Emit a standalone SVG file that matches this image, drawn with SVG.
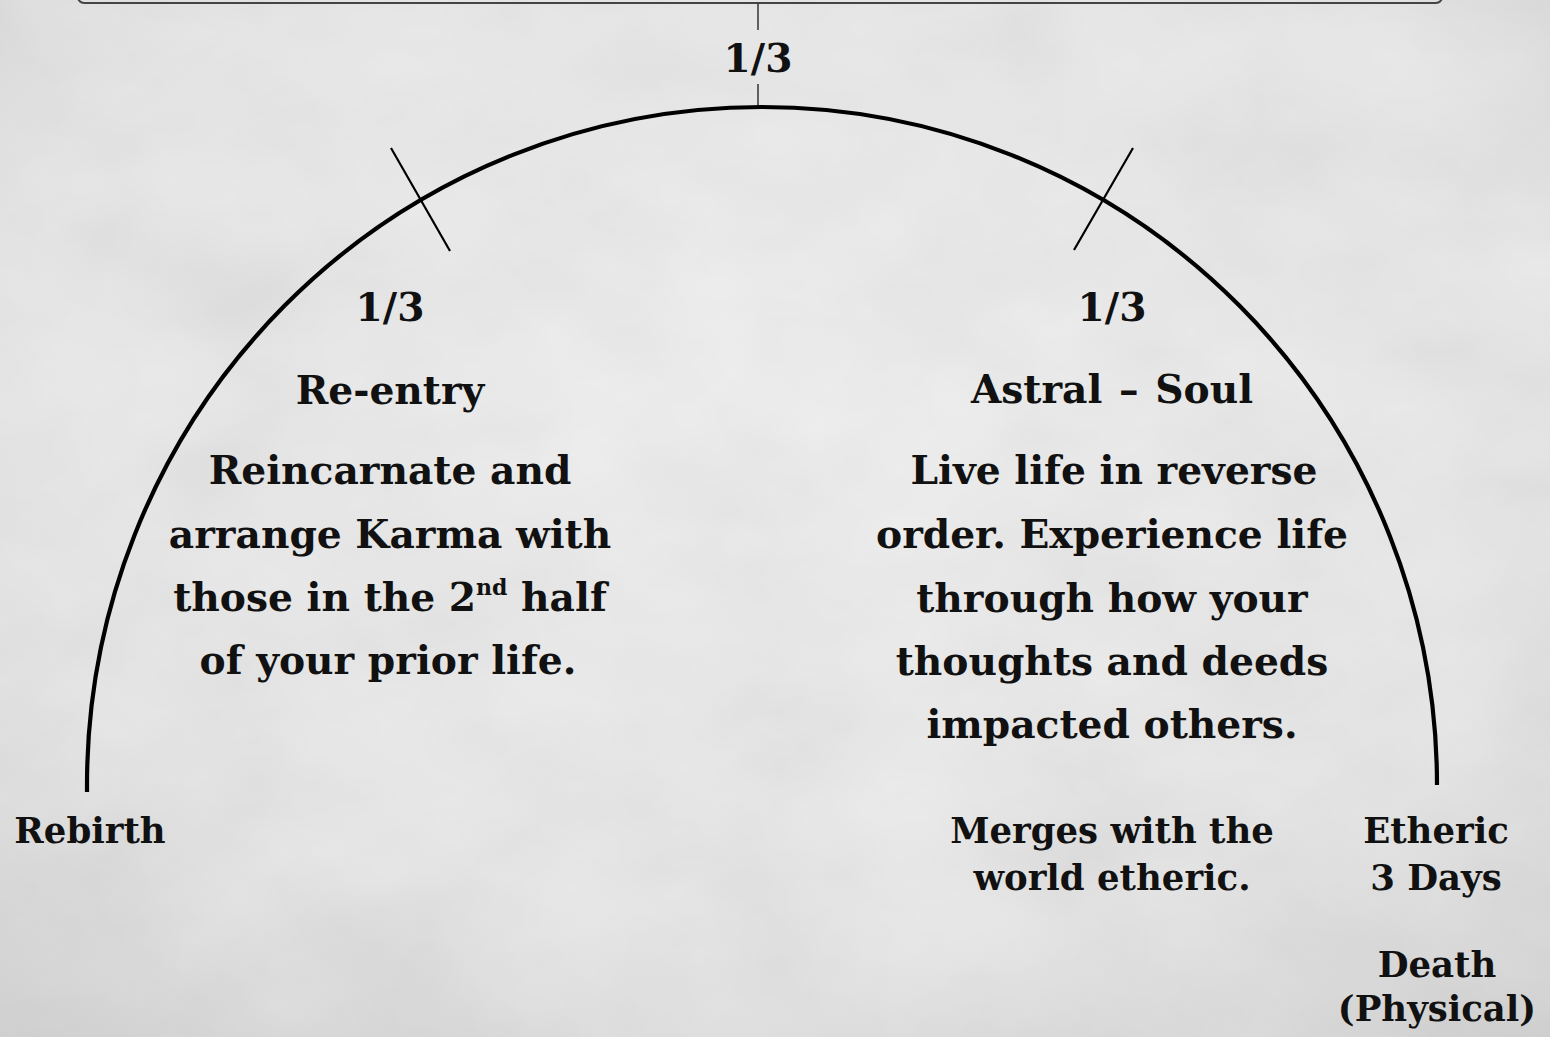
<svg xmlns="http://www.w3.org/2000/svg" width="1550" height="1037" viewBox="0 0 1550 1037">
<defs>
<radialGradient id="bg" cx="0.5" cy="0.4" r="0.8">
<stop offset="0" stop-color="#f3f3f3"/>
<stop offset="0.65" stop-color="#eaeaea"/>
<stop offset="1" stop-color="#d2d2d2"/>
</radialGradient>
<filter id="paper" x="0" y="0" width="100%" height="100%">
<feTurbulence type="fractalNoise" baseFrequency="0.006 0.009" numOctaves="4" seed="7"/>
<feColorMatrix type="matrix" values="0.33 0.33 0.33 0 0  0.33 0.33 0.33 0 0  0.33 0.33 0.33 0 0  0 0 0 0 1"/>
</filter>
<style>
.t{font-family:"DejaVu Serif","Liberation Serif",serif;font-weight:bold;font-size:39.2px;text-anchor:middle;fill:#111}
.s{font-size:35.5px}
.sup{font-size:22px}
.arc{fill:none;stroke:#000;stroke-width:4.2;stroke-linecap:butt}
.tick{stroke:#000;stroke-width:2.2}
.thin{stroke:#333;stroke-width:1.5}
</style>
</defs>
<rect width="1550" height="1037" fill="url(#bg)"/>
<rect width="1550" height="1037" filter="url(#paper)" opacity="0.14"/>
<rect id="topbox" x="78" y="-60" width="1364" height="63" rx="6" fill="none" stroke="#444" stroke-width="2"/>
<g id="connectors">
<line class="thin" x1="758" y1="3" x2="758" y2="30"/>
<line class="thin" x1="758" y1="84" x2="758" y2="107"/>
<path class="arc" d="M87,792 L87,785 A675,678 0 0 1 1437,785"/>
<line class="tick" x1="391" y1="148" x2="450" y2="251"/>
<line class="tick" x1="1133" y1="148" x2="1074" y2="250"/>
</g>
<g id="top-third"><text class="t" x="758" y="72">1/3</text></g>
<g id="reentry">
<text class="t" x="390" y="321">1/3</text>
<text class="t" x="390" y="404">Re-entry</text>
<text class="t" x="390" y="484">Reincarnate and</text>
<text class="t" x="390" y="548">arrange Karma with</text>
<text class="t" x="390" y="611">those in the 2<tspan class="sup" dy="-16">nd</tspan><tspan dy="16"> half</tspan></text>
<text class="t" x="388" y="674">of your prior life.</text>
</g>
<g id="astral">
<text class="t" x="1112" y="321">1/3</text>
<text class="t" x="1112" y="403">Astral <tspan dx="3">–</tspan><tspan dx="3"> Soul</tspan></text>
<text class="t" x="1114" y="484">Live life in reverse</text>
<text class="t" x="1112" y="548">order. Experience life</text>
<text class="t" x="1112" y="612">through how your</text>
<text class="t" x="1112" y="675">thoughts and deeds</text>
<text class="t" x="1112" y="738">impacted others.</text>
</g>
<g id="merges">
<text class="t s" x="1112" y="843">Merges with the</text>
<text class="t s" x="1112" y="890">world etheric.</text>
</g>
<g id="rebirth"><text class="t s" x="90" y="843">Rebirth</text></g>
<g id="etheric">
<text class="t s" x="1436" y="843">Etheric</text>
<text class="t s" x="1436" y="890">3 Days</text>
</g>
<g id="death">
<text class="t s" x="1437" y="977">Death</text>
<text class="t s" x="1437" y="1021">(Physical)</text>
</g>
</svg>
